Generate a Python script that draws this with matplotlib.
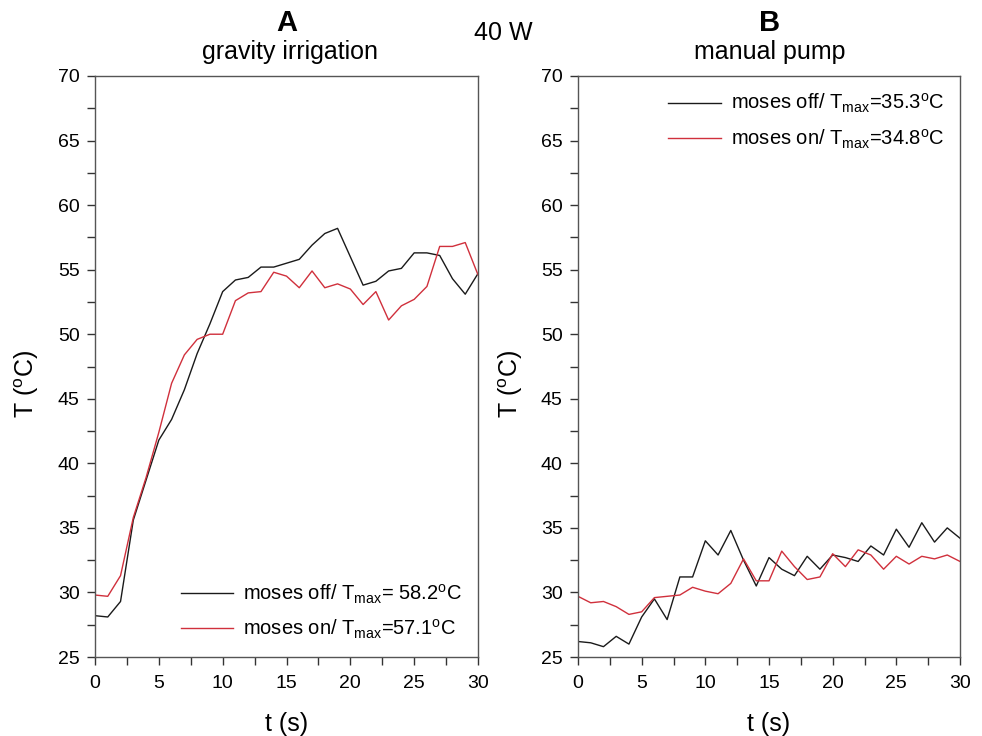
import matplotlib
matplotlib.use("Agg")
import matplotlib.pyplot as plt
from matplotlib.ticker import MultipleLocator
import numpy as np

plt.rcParams['font.family'] = ['Liberation Sans', 'DejaVu Sans']
plt.rcParams['mathtext.fontset'] = 'custom'
plt.rcParams['mathtext.rm'] = 'Liberation Sans'
plt.rcParams['mathtext.it'] = 'Liberation Sans:italic'

t = list(range(31))

gravity_off = [28.2, 28.1, 29.3, 35.6, 38.7, 41.8, 43.4, 45.7, 48.5, 50.8,
               53.3, 54.2, 54.4, 55.2, 55.2, 55.5, 55.8, 56.9, 57.8, 58.2,
               56.0, 53.8, 54.1, 54.9, 55.1, 56.3, 56.3, 56.1, 54.3, 53.1, 54.7]
gravity_on = [29.8, 29.7, 31.3, 35.8, 38.9, 42.4, 46.2, 48.4, 49.6, 50.0,
              50.0, 52.6, 53.2, 53.3, 54.8, 54.5, 53.6, 54.9, 53.6, 53.9,
              53.5, 52.3, 53.3, 51.1, 52.2, 52.7, 53.7, 56.8, 56.8, 57.1, 54.6]

manual_off = [26.2, 26.1, 25.8, 26.6, 26.0, 28.1, 29.5, 27.9, 31.2, 31.2,
              34.0, 32.9, 34.8, 32.5, 30.5, 32.7, 31.8, 31.3, 32.8, 31.8,
              32.9, 32.7, 32.4, 33.6, 32.9, 34.9, 33.5, 35.4, 33.9, 35.0, 34.2]
manual_on = [29.7, 29.2, 29.3, 28.9, 28.3, 28.5, 29.6, 29.7, 29.8, 30.4,
             30.1, 29.9, 30.7, 32.6, 30.9, 30.9, 33.2, 32.0, 31.0, 31.2,
             33.0, 32.0, 33.3, 32.9, 31.8, 32.8, 32.2, 32.8, 32.6, 32.9, 32.4]

labels_A = [r'moses off/ T$_{\mathregular{max}}$= 58.2$^{\mathregular{o}}$C',
            r'moses on/ T$_{\mathregular{max}}$=57.1$^{\mathregular{o}}$C']
labels_B = [r'moses off/ T$_{\mathregular{max}}$=35.3$^{\mathregular{o}}$C',
            r'moses on/ T$_{\mathregular{max}}$=34.8$^{\mathregular{o}}$C']

fig = plt.figure(figsize=(9.82, 7.36), dpi=100)
axA = fig.add_axes([95/982, 79/736, 383/982, 581/736])
axB = fig.add_axes([578/982, 79/736, 382/982, 581/736])

black = '#1a1a1a'
red = '#d0303c'

for ax, off, on, labels, loc in [(axA, gravity_off, gravity_on, labels_A, 'lower right'),
                                 (axB, manual_off, manual_on, labels_B, 'upper right')]:
    ax.plot(t, off, color=black, lw=1.0, label=labels[0])
    ax.plot(t, on, color=red, lw=1.0, label=labels[1])
    ax.set_xlim(0, 30)
    ax.set_ylim(25, 70)
    ax.xaxis.set_major_locator(MultipleLocator(5))
    ax.xaxis.set_minor_locator(MultipleLocator(2.5))
    ax.yaxis.set_major_locator(MultipleLocator(5))
    ax.yaxis.set_minor_locator(MultipleLocator(2.5))
    ax.tick_params(which='both', direction='out', labelsize=14, width=1, color='#333333')
    ax.tick_params(axis='x', which='both', pad=7)
    ax.tick_params(axis='y', which='both', pad=5)
    ax.tick_params(which='major', length=6)
    ax.tick_params(which='minor', length=6)
    for s in ax.spines.values():
        s.set_color('#555555')
        s.set_linewidth(1)
    ax.set_xlabel('t (s)', fontsize=18, labelpad=14)
    ax.set_ylabel(r'T ($^{\mathregular{o}}$C)', fontsize=18)
    ax.yaxis.set_label_coords(-0.14, 0.47)
    ax.legend(loc=loc, frameon=False, fontsize=14.5, handlelength=2.6,
              handletextpad=0.5, labelspacing=0.6, borderaxespad=0.4)

fig.text(287/982, 1 - 23/736, 'A', ha='center', va='center', fontsize=21, fontweight='bold')
fig.text(290/982, 1 - 52/736, 'gravity irrigation', ha='center', va='center', fontsize=18)
fig.text(503/982, 1 - 33/736, '40 W', ha='center', va='center', fontsize=18)
fig.text(770/982, 1 - 23/736, 'B', ha='center', va='center', fontsize=21, fontweight='bold')
fig.text(770/982, 1 - 52/736, 'manual pump', ha='center', va='center', fontsize=18)

fig.savefig('out.png', dpi=100)
